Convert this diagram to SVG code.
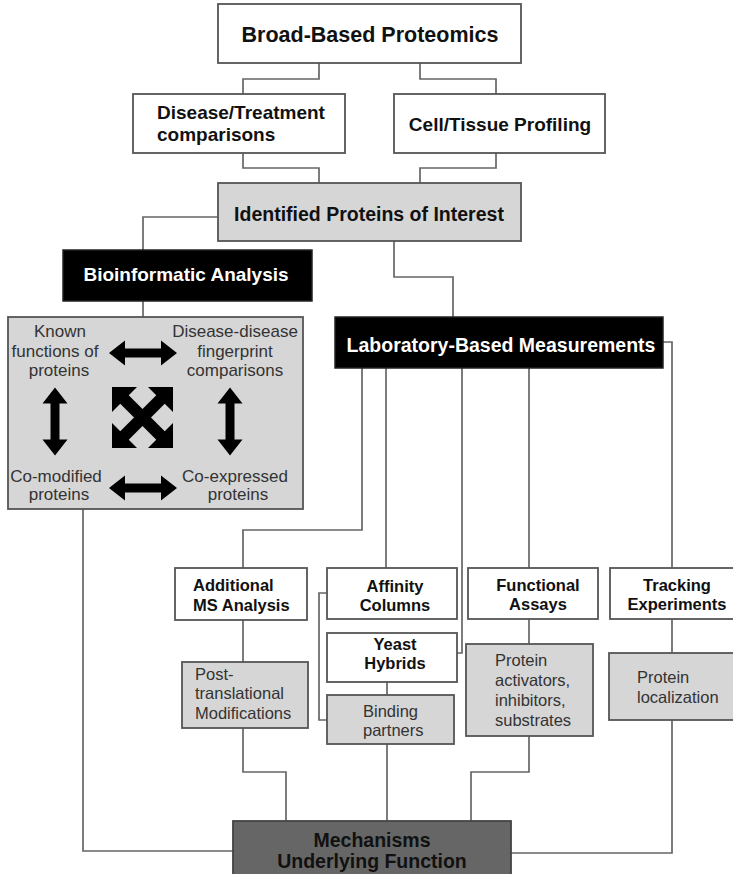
<svg xmlns="http://www.w3.org/2000/svg" width="733" height="874" viewBox="0 0 733 874">
<style>
.box{stroke:#555;stroke-width:1.8;fill:#fff}
.gray{stroke:#555;stroke-width:1.8;fill:#d6d6d6}
.blk{stroke:#222;stroke-width:1.5;fill:#000}
.dark{stroke:#444;stroke-width:1.8;fill:#666}
.conn{fill:none;stroke:#666;stroke-width:1.7}
text{font-family:"Liberation Sans",Arial,Helvetica,sans-serif}
.b{font-weight:bold;fill:#111}
.w{font-weight:bold;fill:#fff}
.r{fill:#333}
.c{text-anchor:middle}
</style>
<defs>
<path id="dbl" d="M-34,0 L-18,-12.5 L-18,-4.5 L18,-4.5 L18,-12.5 L34,0 L18,12.5 L18,4.5 L-18,4.5 L-18,12.5 Z" fill="#000"/>
</defs>
<rect width="733" height="874" fill="#fff"/>
<g id="connectors">
<path class="conn" d="M319,63 V79 H243 V94"/>
<path class="conn" d="M420,63 V79 H496 V94"/>
<path class="conn" d="M243,153 V168 H319 V183"/>
<path class="conn" d="M496,153 V168 H420 V183"/>
<path class="conn" d="M218,217 H143 V250"/>
<path class="conn" d="M143,301 V317"/>
<path class="conn" d="M394,241 V277 H453 V317"/>
<path class="conn" d="M362,368 V530 H243 V568"/>
<path class="conn" d="M386,368 V568"/>
<path class="conn" d="M462,368 V653 H457"/>
<path class="conn" d="M529,368 V568"/>
<path class="conn" d="M663,342 H672 V568"/>
<path class="conn" d="M243,620 V662"/>
<path class="conn" d="M327,593 H319 V720 H327"/>
<path class="conn" d="M387,682 V695"/>
<path class="conn" d="M529,619 V644"/>
<path class="conn" d="M672,619 V653"/>
<path class="conn" d="M243,728 V772 H286 V821"/>
<path class="conn" d="M387,744 V821"/>
<path class="conn" d="M529,736 V772 H471 V821"/>
<path class="conn" d="M672,720 V853 H511"/>
<path class="conn" d="M83,509 V851 H233"/>
</g>
<g id="broad">
<rect class="box" x="218" y="4" width="303" height="59"/>
<text class="b c" x="370" y="42" font-size="21.5">Broad-Based Proteomics</text>
</g>
<g id="disease">
<rect class="box" x="133" y="94" width="212" height="59"/>
<text class="b" x="157" y="119" font-size="19">Disease/Treatment</text>
<text class="b" x="157" y="141" font-size="19">comparisons</text>
</g>
<g id="cell">
<rect class="box" x="394" y="94" width="211" height="59"/>
<text class="b c" x="500" y="131" font-size="19">Cell/Tissue Profiling</text>
</g>
<g id="identified">
<rect class="gray" x="218" y="183" width="303" height="58"/>
<text class="b c" x="369" y="221" font-size="19.5">Identified Proteins of Interest</text>
</g>
<g id="bioinformatic">
<rect class="blk" x="63" y="250" width="249" height="51"/>
<text class="w c" x="186" y="281" font-size="19">Bioinformatic Analysis</text>
</g>
<g id="bioinfo-box">
<rect class="gray" x="8" y="317" width="295" height="192"/>
<g class="r c" font-size="17">
<text class="r c" x="60" y="337">Known</text>
<text class="r c" x="55" y="357">functions of</text>
<text class="r c" x="59" y="376">proteins</text>
<text class="r c" x="235" y="337">Disease-disease</text>
<text class="r c" x="235" y="357">fingerprint</text>
<text class="r c" x="235" y="376">comparisons</text>
<text class="r c" x="56" y="482">Co-modified</text>
<text class="r c" x="59" y="500">proteins</text>
<text class="r c" x="235" y="482">Co-expressed</text>
<text class="r c" x="238" y="500">proteins</text>
</g>
<use href="#dbl" transform="translate(143,353)"/>
<use href="#dbl" transform="translate(143,488)"/>
<use href="#dbl" transform="translate(55,421.5) rotate(90)"/>
<use href="#dbl" transform="translate(230,421.5) rotate(90)"/>
<g transform="translate(142.5,417.5)">
<path d="M-19,-19 L19,19 M-19,19 L19,-19" stroke="#000" stroke-width="12" fill="none"/>
<path d="M-30.5,-30.5 H-5.5 L-30.5,-5.5 Z M30.5,-30.5 H5.5 L30.5,-5.5 Z M-30.5,30.5 H-5.5 L-30.5,5.5 Z M30.5,30.5 H5.5 L30.5,5.5 Z" fill="#000"/>
</g>
</g>
<g id="laboratory">
<rect class="blk" x="335" y="317" width="328" height="51"/>
<text class="w c" x="501" y="352" font-size="19.5">Laboratory-Based Measurements</text>
</g>
<g id="additional-ms">
<rect class="box" x="175" y="568" width="132" height="52"/>
<text class="b" x="193" y="591" font-size="16.5">Additional</text>
<text class="b" x="193" y="611" font-size="16.5">MS Analysis</text>
</g>
<g id="affinity">
<rect class="box" x="327" y="568" width="130" height="51"/>
<text class="b c" x="395" y="592" font-size="16.5">Affinity</text>
<text class="b c" x="395" y="611" font-size="16.5">Columns</text>
</g>
<g id="yeast">
<rect class="box" x="327" y="633" width="130" height="49"/>
<text class="b c" x="395" y="650" font-size="16.5">Yeast</text>
<text class="b c" x="395" y="669" font-size="16.5">Hybrids</text>
</g>
<g id="functional">
<rect class="box" x="468" y="568" width="130" height="51"/>
<text class="b c" x="538" y="591" font-size="16.5">Functional</text>
<text class="b c" x="538" y="610" font-size="16.5">Assays</text>
</g>
<g id="tracking">
<rect class="box" x="610" y="568" width="130" height="51"/>
<text class="b c" x="677" y="591" font-size="16.5">Tracking</text>
<text class="b c" x="677" y="610" font-size="16.5">Experiments</text>
</g>
<g id="post-translational">
<rect class="gray" x="182" y="662" width="126" height="66"/>
<text class="r" x="195" y="680" font-size="16.5">Post-</text>
<text class="r" x="195" y="699" font-size="16.5">translational</text>
<text class="r" x="195" y="719" font-size="16.5">Modifications</text>
</g>
<g id="binding">
<rect class="gray" x="327" y="695" width="127" height="49"/>
<text class="r" x="363" y="717" font-size="16.5">Binding</text>
<text class="r" x="363" y="736" font-size="16.5">partners</text>
</g>
<g id="protein-activators">
<rect class="gray" x="466" y="644" width="127" height="92"/>
<text class="r" x="495" y="666" font-size="16.5">Protein</text>
<text class="r" x="495" y="686" font-size="16.5">activators,</text>
<text class="r" x="495" y="706" font-size="16.5">inhibitors,</text>
<text class="r" x="495" y="726" font-size="16.5">substrates</text>
</g>
<g id="protein-localization">
<rect class="gray" x="609" y="653" width="131" height="67"/>
<text class="r" x="637" y="683" font-size="16.5">Protein</text>
<text class="r" x="637" y="703" font-size="16.5">localization</text>
</g>
<g id="mechanisms">
<rect class="dark" x="233" y="821" width="278" height="60"/>
<text class="b c" x="372" y="847" font-size="19.5">Mechanisms</text>
<text class="b c" x="372" y="868" font-size="19.5">Underlying Function</text>
</g>
</svg>
